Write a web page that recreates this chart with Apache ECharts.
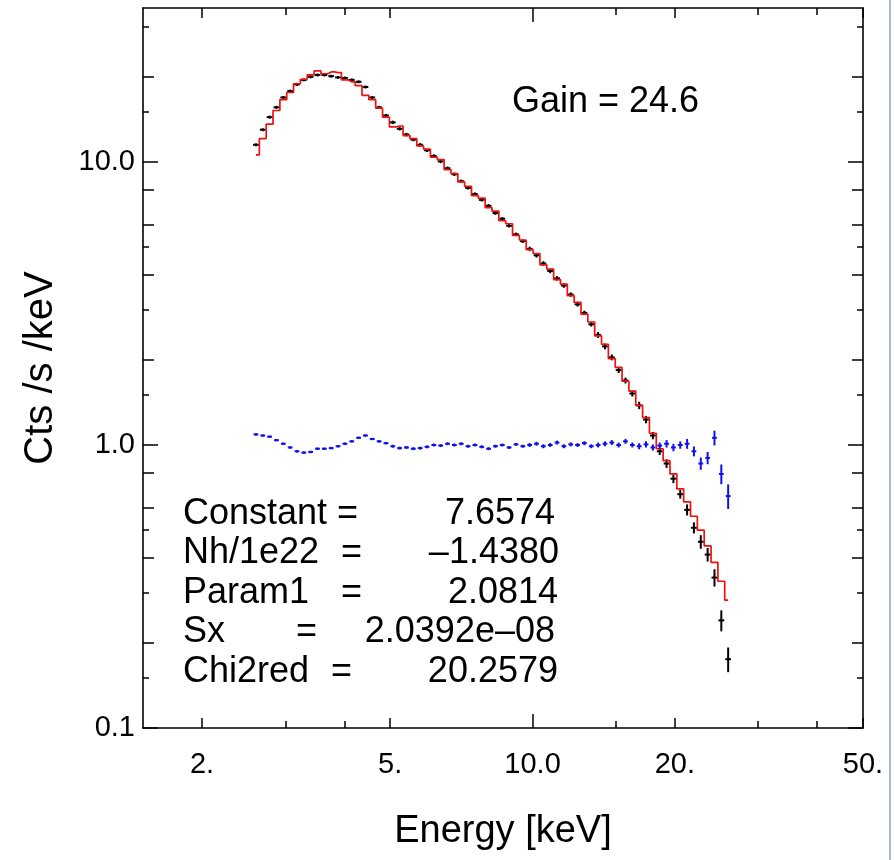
<!DOCTYPE html>
<html><head><meta charset="utf-8">
<script src="https://cdn.jsdelivr.net/npm/echarts@6/dist/echarts.min.js"></script>
<style>html,body{margin:0;padding:0;background:#fff}#c{width:894px;height:860px}</style>
</head><body><div id="c"></div>
<script>
// ---- data ----
const energy = [2.600,2.688,2.779,2.873,2.971,3.071,3.175,3.283,3.394,3.509,3.628,3.751,3.878,4.010,4.146,4.286,4.431,4.581,4.737,4.897,5.063,5.235,5.412,5.596,5.785,5.981,6.184,6.394,6.610,6.834,7.066,7.305,7.553,7.809,8.073,8.347,8.630,8.922,9.225,9.537,9.861,10.195,10.541,10.898,11.267,11.649,12.044,12.452,12.874,13.311,13.762,14.229,14.711,15.210,15.725,16.258,16.810,17.379,17.968,18.578,19.208,19.859,20.532,21.228,21.947,22.691,23.461,24.256,25.078,25.928];
const counts = [11.5,13.0,14.4,15.6,16.9,17.8,18.8,19.5,20.0,20.3, 20.3,20.1,19.9,19.8,19.5,19.2,18.4,16.9,15.6,14.6, 13.8,13.1,12.5,12.0,11.5,11.0,10.5,10.05,9.5,9.05, 8.55,8.1,7.7,7.35,7.0,6.6,6.3,5.95,5.55,5.25, 4.93,4.68,4.38,4.12,3.88,3.66,3.40,3.14,2.93,2.67, 2.45,2.23,2.04,1.84,1.69,1.52,1.38,1.23,1.08,0.95, 0.86,0.76,0.67,0.59,0.51,0.455,0.41,0.34,0.24,0.175];
const countErr = [0.012,0.012,0.012,0.012,0.012,0.012,0.012,0.012,0.012,0.012, 0.012,0.012,0.012,0.012,0.012,0.012,0.012,0.012,0.012,0.012, 0.014,0.014,0.014,0.014,0.014,0.014,0.014,0.014,0.014,0.014, 0.014,0.014,0.014,0.014,0.014,0.014,0.014,0.014,0.014,0.014, 0.018,0.018,0.018,0.018,0.018,0.018,0.018,0.018,0.018,0.018, 0.024,0.024,0.024,0.024,0.024,0.024,0.03,0.03,0.03,0.03, 0.035,0.035,0.035,0.045,0.045,0.055,0.055,0.07,0.085,0.10];
const model = [10.6,12.1,13.6,15.2,16.6,17.6,18.9,19.6,20.3,21.0, 20.5,20.8,20.7,19.5,19.2,18.6,17.2,16.6,15.5,14.4, 13.3,13.4,12.4,12.1,11.4,11.1,10.4,10.2,9.4,9.1, 8.5,8.2,7.6,7.45,6.9,6.7,6.2,6.05,5.5,5.3, 4.9,4.75,4.33,4.18,3.84,3.70,3.37,3.19,2.90,2.72, 2.43,2.27,2.02,1.88,1.68,1.55,1.38,1.25,1.10,0.97, 0.88,0.79,0.70,0.63,0.56,0.50,0.44,0.385,0.33,0.283];
const ratio = [1.09,1.08,1.07,1.04,1.01,0.98,0.95,0.94,0.945,0.97, 0.97,0.975,0.99,1.01,1.03,1.06,1.08,1.05,1.03,1.015, 0.99,0.975,0.98,0.97,0.975,0.985,1.0,0.995,1.01,1.0, 1.01,0.99,1.0,0.985,0.97,0.99,1.0,0.98,1.005,0.99, 1.0,1.01,0.99,1.0,1.02,0.99,1.005,1.0,1.015,0.99, 1.0,1.01,1.02,1.0,1.03,1.0,0.99,1.005,0.98,0.995, 1.01,0.98,1.0,1.01,0.95,0.86,0.90,1.06,0.79,0.66];
const ratioErr = [0.01,0.01,0.01,0.01,0.01,0.01,0.01,0.01,0.01,0.01, 0.01,0.01,0.01,0.01,0.01,0.01,0.01,0.01,0.01,0.01, 0.012,0.012,0.012,0.012,0.012,0.012,0.012,0.012,0.012,0.012, 0.012,0.012,0.012,0.012,0.012,0.012,0.012,0.012,0.012,0.012, 0.016,0.016,0.016,0.016,0.016,0.016,0.016,0.016,0.016,0.016, 0.02,0.02,0.02,0.02,0.02,0.02,0.025,0.025,0.025,0.025, 0.03,0.03,0.03,0.04,0.04,0.05,0.05,0.06,0.08,0.10];

const xLabelValues = [2,5,10,20,50];
const xLabelTexts = ['2.','5.','10.0','20.','50.'];
const yLabelValues = [0.1,1,10];
const yLabelTexts = ['0.1','1.0','10.0'];
const xTickLong = [10], xTickMid = [2,5,20,50], xTickShort = [3,4,15,30,40];
const yTickLong = [0.1,1,10], yTickMid = [0.2,0.4,0.6,0.8,2,4,6,8,20], yTickShort = [0.15,0.3,0.5,1.5,3,5,15,30];
const paramNames = ['Constant','Nh/1e22','Param1','Sx','Chi2red'];
const paramValues = ['7.6574','\u20131.4380','2.0814','2.0392e\u201308','20.2579'];
const gainText = 'Gain = 24.6';
const xTitle = 'Energy [keV]';
const yTitle = 'Cts /s /keV';

// ---- chart ----
const FONT = '"Liberation Sans", Arial, Helvetica, sans-serif';
const X_MIN = 1.5, X_MAX = 50, Y_MIN = 0.1, Y_MAX = 35;

function edges(i){
  const n = energy.length;
  const lo = i > 0 ? Math.sqrt(energy[i-1]*energy[i]) : energy[0]*energy[0]/Math.sqrt(energy[0]*energy[1]);
  const hi = i < n-1 ? Math.sqrt(energy[i]*energy[i+1]) : energy[n-1]*energy[n-1]/Math.sqrt(energy[n-2]*energy[n-1]);
  return [lo, hi];
}
function crossData(vals, errs){
  return vals.map((v,i)=>{ const e = edges(i); return [energy[i], e[0], e[1], v, v*(1-errs[i]), v*(1+errs[i])]; });
}
function crossRender(color, lw, shrink){
  return function(params, api){
    const c = api.coord([api.value(0), api.value(3)]);
    const l = api.coord([api.value(1), api.value(3)]);
    const r = api.coord([api.value(2), api.value(3)]);
    const b = api.coord([api.value(0), api.value(4)]);
    const t = api.coord([api.value(0), api.value(5)]);
    const x1 = c[0] - (c[0]-l[0])*shrink, x2 = c[0] + (r[0]-c[0])*shrink;
    return {type:'group', children:[
      {type:'line', shape:{x1:x1,y1:c[1],x2:x2,y2:c[1]}, style:{stroke:color, lineWidth:lw}},
      {type:'line', shape:{x1:c[0],y1:b[1],x2:c[0],y2:t[1]}, style:{stroke:color, lineWidth:lw}}
    ]};
  };
}
function fmt(vals, texts){
  return function(v){ const i = vals.findIndex(t => Math.abs(t - v)/t < 1e-6); return i >= 0 ? texts[i] : ''; };
}
function xAx(pos, ticks, len, extra){
  return Object.assign({type:'log', logBase:10, min:X_MIN, max:X_MAX, position:pos,
    axisLine:{show:false, onZero:false, lineStyle:{color:'#000', width:1.6}},
    axisTick:{show:true, inside:true, length:len, customValues:ticks, lineStyle:{color:'#000', width:1.5}},
    axisLabel:{show:false}, splitLine:{show:false}, minorTick:{show:false}}, extra||{});
}
function yAx(pos, ticks, len, extra){
  return Object.assign({type:'log', logBase:10, min:Y_MIN, max:Y_MAX, position:pos,
    axisLine:{show:false, onZero:false, lineStyle:{color:'#000', width:1.6}},
    axisTick:{show:true, inside:true, length:len, customValues:ticks, lineStyle:{color:'#000', width:1.5}},
    axisLabel:{show:false}, splitLine:{show:false}, minorTick:{show:false}}, extra||{});
}

const xAxes = [
  xAx('bottom', xTickMid, 10, {
    axisLine:{show:true, onZero:false, lineStyle:{color:'#000', width:1.6}},
    axisLabel:{show:true, customValues:xLabelValues, formatter:fmt(xLabelValues,xLabelTexts), margin:22, fontSize:29, color:'#000', fontFamily:FONT},
    name:xTitle, nameLocation:'middle', nameGap:85, nameTextStyle:{fontSize:38, color:'#000', fontFamily:FONT}
  }),
  xAx('bottom', xTickLong, 14),
  xAx('bottom', xTickShort, 7),
  xAx('top', xTickMid, 10, {axisLine:{show:true, onZero:false, lineStyle:{color:'#000', width:1.6}}}),
  xAx('top', xTickLong, 14),
  xAx('top', xTickShort, 7)
];
const yAxes = [
  yAx('left', yTickLong, 15, {
    axisLine:{show:true, onZero:false, lineStyle:{color:'#000', width:1.6}},
    axisLabel:{show:true, customValues:yLabelValues, formatter:fmt(yLabelValues,yLabelTexts), margin:8, fontSize:29, color:'#000', fontFamily:FONT},
    name:yTitle, nameLocation:'middle', nameGap:82, nameTextStyle:{fontSize:40, color:'#000', fontFamily:FONT}
  }),
  yAx('left', yTickMid, 11),
  yAx('left', yTickShort, 6),
  yAx('right', yTickLong, 15, {axisLine:{show:true, onZero:false, lineStyle:{color:'#000', width:1.6}}}),
  yAx('right', yTickMid, 11),
  yAx('right', yTickShort, 6)
];

const TXT = '36px ' + FONT;
const graphics = [
  {type:'text', x:512, y:102, style:{text:gainText, font:TXT, fill:'#000', verticalAlign:'middle', align:'left'}},
  {type:'line', shape:{x1:890, y1:0, x2:890, y2:860}, style:{stroke:'#a9bbd2', lineWidth:2}}
];
const eqX = [337, 341, 341, 296, 331];
const valRight = [555, 559, 558, 555, 558];
paramNames.forEach((n,i)=>{
  const y = 514 + 39.5*i;
  graphics.push({type:'text', x:183, y:y, style:{text:n, font:TXT, fill:'#000', verticalAlign:'middle', align:'left'}});
  graphics.push({type:'text', x:eqX[i], y:y, style:{text:'=', font:TXT, fill:'#000', verticalAlign:'middle', align:'left'}});
  graphics.push({type:'text', x:valRight[i], y:y, style:{text:paramValues[i], font:TXT, fill:'#000', verticalAlign:'middle', align:'right'}});
});

const chart = echarts.init(document.getElementById('c'), null, {renderer:'canvas'});
chart.setOption({
  animation:false,
  backgroundColor:'#fff',
  grid:{left:143, right:31, top:8, bottom:132, containLabel:false},
  xAxis:xAxes,
  yAxis:yAxes,
  series:[
    {type:'custom', name:'data', renderItem:crossRender('#000', 2, 0.85), data:crossData(counts, countErr),
      encode:{x:[0,1,2], y:[3,4,5]}, xAxisIndex:0, yAxisIndex:0, clip:true, z:2},
    {type:'line', name:'model', data:energy.map((e,i)=>[e, model[i]]), step:'middle', showSymbol:false, symbol:'none',
      lineStyle:{color:'#ee1111', width:1.7}, xAxisIndex:0, yAxisIndex:0, z:3},
    {type:'custom', name:'ratio', renderItem:crossRender('#1010ee', 2, 0.7), data:crossData(ratio, ratioErr),
      encode:{x:[0,1,2], y:[3,4,5]}, xAxisIndex:0, yAxisIndex:0, clip:true, z:4}
  ],
  graphic:graphics
});
</script></body></html>
